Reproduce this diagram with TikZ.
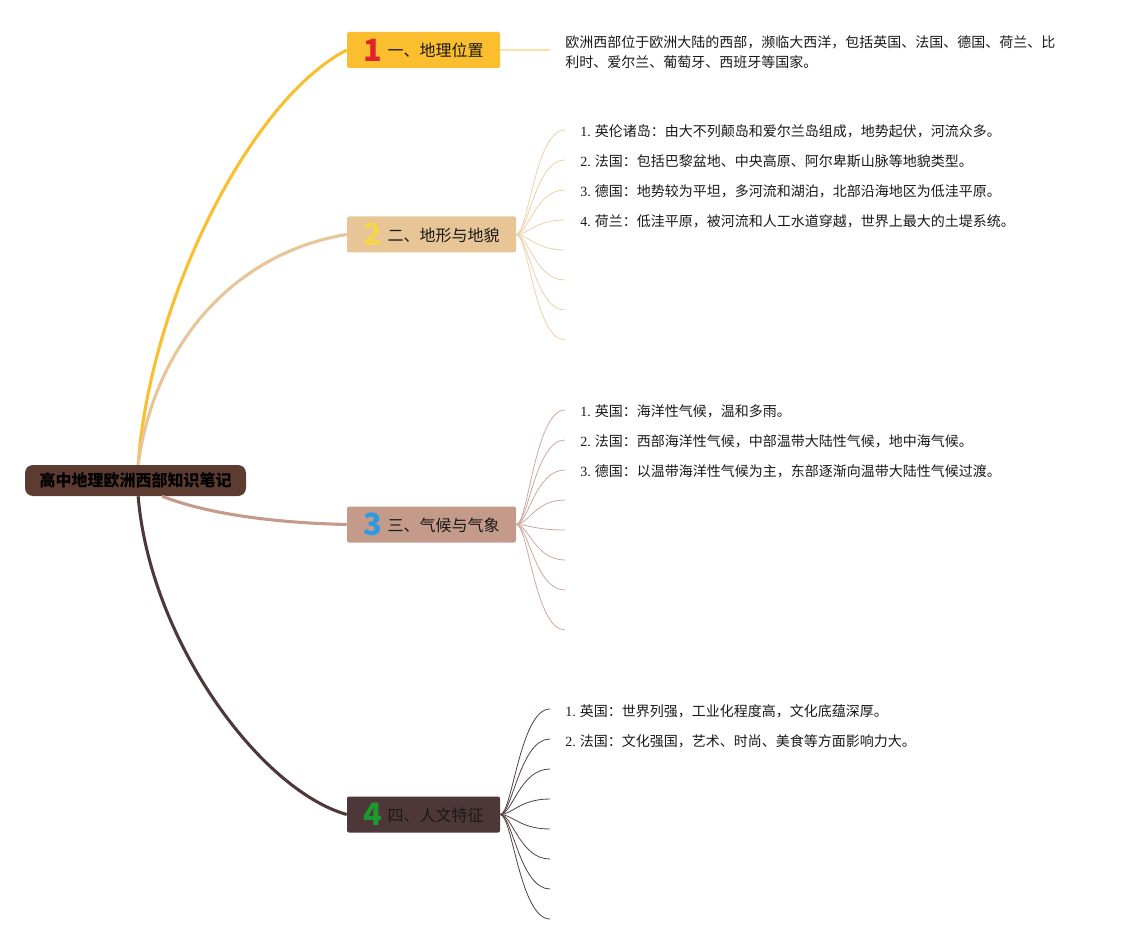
\documentclass[tikz,border=0pt]{standalone}
\usepackage{fontspec}
\usepackage{xcolor}
\usepackage{tikz}
\usetikzlibrary{calc}
\setmainfont{Noto Sans CJK SC}
\newfontfamily\numfont{Liberation Serif}
\definecolor{rootbg}{HTML}{5C3B31}
\definecolor{bOne}{HTML}{FBBE2E}
\definecolor{bTwo}{HTML}{E8C596}
\definecolor{bThree}{HTML}{C49A8B}
\definecolor{bFour}{HTML}{4E3738}
\definecolor{fanTwo}{HTML}{EDCFA8}
\definecolor{fanThree}{HTML}{CDA89B}
\definecolor{fanFour}{HTML}{524042}
\definecolor{leafOne}{HTML}{F8E2A8}
\definecolor{numRed}{HTML}{E3232B}
\definecolor{numYellow}{HTML}{F5D54A}
\definecolor{numBlue}{HTML}{2E9BE0}
\definecolor{numGreen}{HTML}{1D9A2D}
\newcommand\bignum[2]{\raisebox{-3.2pt}{\fontsize{23}{23}\selectfont\bfseries\color{#1}#2}}

\begin{document}
\begin{tikzpicture}[x=0.75pt, y=-0.75pt,
  rootbox/.style={rectangle, rounded corners=6pt, fill=rootbg, minimum width=165.75pt, minimum height=23.25pt, inner sep=0pt, font=\fontsize{12}{14}\selectfont\bfseries, text=black},
  branchbox/.style={rectangle, rounded corners=1.5pt, minimum height=27pt, inner sep=0pt, font=\fontsize{12}{14}\selectfont, text=black!90},
  leaf/.style={anchor=west, inner sep=0pt, font=\fontsize{10.5}{15}\selectfont, text=black!90},
  trunk/.style={line width=2.3pt},
  fan/.style={line width=0.6pt}]
  \useasboundingbox (0,0) rectangle (1125,945);

  % Root node
  \node[rootbox] (root) at (135.5,480.5) {高中地理欧洲西部知识笔记};

  % Four branch boxes
  \node[branchbox, fill=bOne, minimum width=114.75pt] (b1) at (423.5,50) {\bignum{numRed}{1}\hspace{4pt}一、地理位置};
  \node[branchbox, fill=bTwo, minimum width=126.75pt] (b2) at (431.5,234.5) {\bignum{numYellow}{2}\hspace{4pt}二、地形与地貌};
  \node[branchbox, fill=bThree, minimum width=126.75pt] (b3) at (431.5,524.5) {\bignum{numBlue}{3}\hspace{4pt}三、气候与气象};
  \node[branchbox, fill=bFour, minimum width=114.75pt] (b4) at (423.5,814.5) {\bignum{numGreen}{4}\hspace{4pt}四、人文特征};

  % Trunk curves from root
  \draw[trunk, bOne] ([xshift=2pt]root.north) .. controls (150,300) and (250,100) .. (b1.west);
  \draw[trunk, bTwo] ([xshift=2pt]root.north) .. controls (155,340) and (238,252) .. (b2.west);
  \draw[trunk, bThree] ([xshift=20pt]root.south) .. controls (210,515) and (280,523) .. (b3.west);
  \draw[trunk, bFour] ([xshift=2pt]root.south) .. controls (150,640) and (260,790) .. (b4.west);

  % Branch 1 leaf
  \coordinate (e1) at (550,50);
  \draw[line width=1.1pt, leafOne] (b1.east) -- (e1);
  \node[leaf, align=left] (t1) at (565,52) {欧洲西部位于欧洲大陆的西部，濒临大西洋，包括英国、法国、德国、荷兰、比\\利时、爱尔兰、葡萄牙、西班牙等国家。};

  % Branch 2 fan
  \foreach \k in {0,...,7} {
    \coordinate (e2-\k) at (565, {130+30*\k});
    \draw[fan, fanTwo] (b2.east) .. controls +(12,0) and +(-30,0) .. (e2-\k);
  }
  \node[leaf] (t2-1) at (580,131) {{\numfont 1.} 英伦诸岛：由大不列颠岛和爱尔兰岛组成，地势起伏，河流众多。};
  \node[leaf] (t2-2) at (580,161) {{\numfont 2.} 法国：包括巴黎盆地、中央高原、阿尔卑斯山脉等地貌类型。};
  \node[leaf] (t2-3) at (580,191) {{\numfont 3.} 德国：地势较为平坦，多河流和湖泊，北部沿海地区为低洼平原。};
  \node[leaf] (t2-4) at (580,221) {{\numfont 4.} 荷兰：低洼平原，被河流和人工水道穿越，世界上最大的土堤系统。};

  % Branch 3 fan
  \foreach \k/\y in {0/410,1/440,2/470,3/500,4/530,5/560,6/590,7/630} {
    \coordinate (e3-\k) at (565,\y);
    \draw[fan, fanThree] (b3.east) .. controls +(12,0) and +(-30,0) .. (e3-\k);
  }
  \node[leaf] (t3-1) at (580,411) {{\numfont 1.} 英国：海洋性气候，温和多雨。};
  \node[leaf] (t3-2) at (580,441) {{\numfont 2.} 法国：西部海洋性气候，中部温带大陆性气候，地中海气候。};
  \node[leaf] (t3-3) at (580,471) {{\numfont 3.} 德国：以温带海洋性气候为主，东部逐渐向温带大陆性气候过渡。};

  % Branch 4 fan
  \foreach \k in {0,...,7} {
    \coordinate (e4-\k) at (550, {709+30*\k});
    \draw[fan, fanFour] (b4.east) .. controls +(12,0) and +(-30,0) .. (e4-\k);
  }
  \node[leaf] (t4-1) at (565,711) {{\numfont 1.} 英国：世界列强，工业化程度高，文化底蕴深厚。};
  \node[leaf] (t4-2) at (565,741) {{\numfont 2.} 法国：文化强国，艺术、时尚、美食等方面影响力大。};
\end{tikzpicture}
\end{document}
